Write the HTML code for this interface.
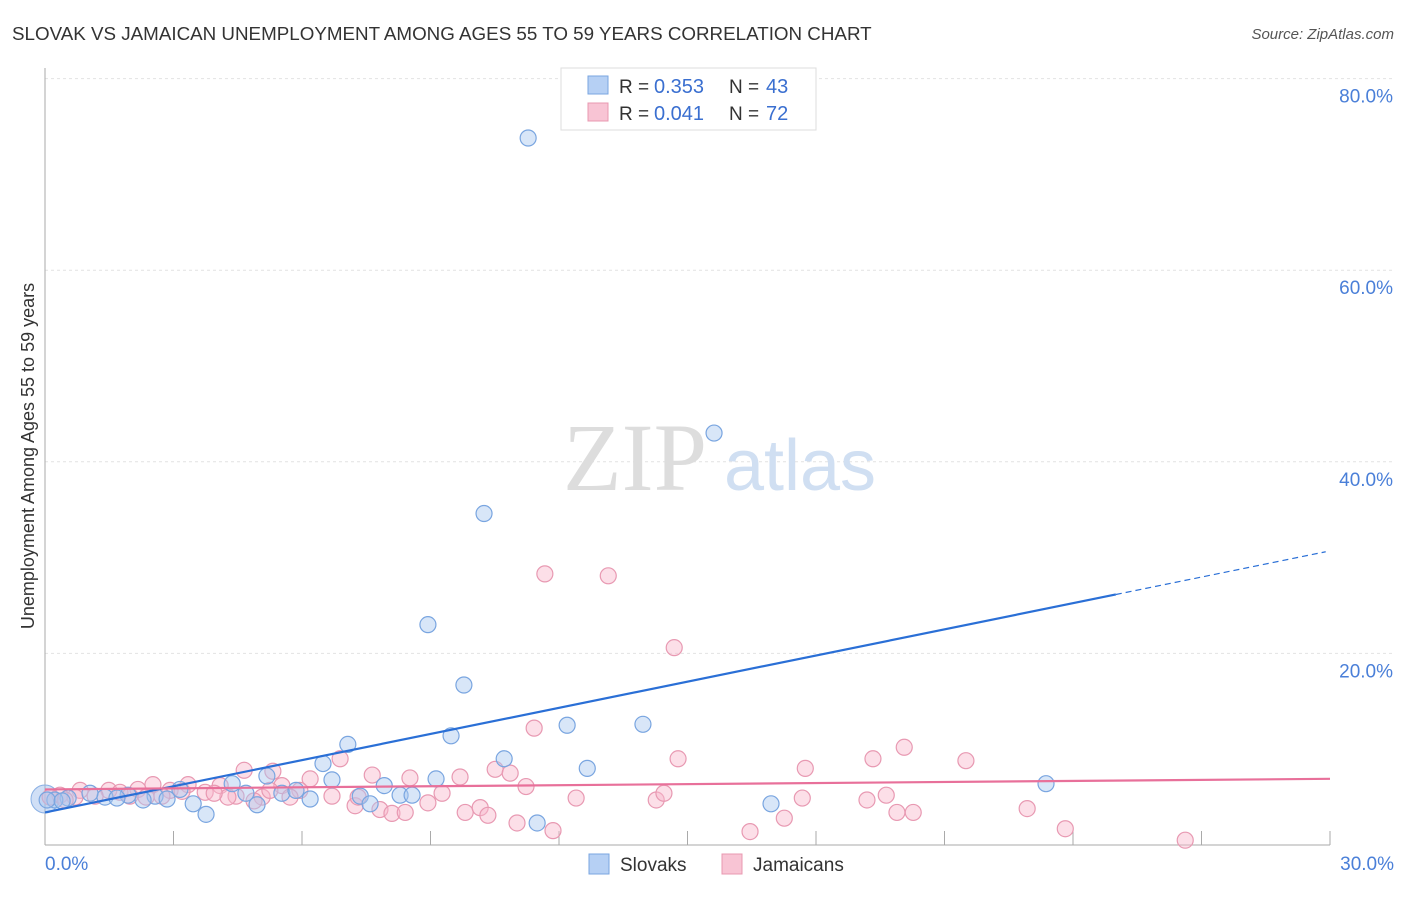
<!DOCTYPE html>
<html><head><meta charset="utf-8"><style>
body{margin:0;background:#fff;font-family:"Liberation Sans",sans-serif}
</style></head><body>
<svg id="chart" width="1406" height="892" xmlns="http://www.w3.org/2000/svg" font-family="Liberation Sans, sans-serif">
<text x="12" y="40" font-size="18.8" fill="#333">SLOVAK VS JAMAICAN UNEMPLOYMENT AMONG AGES 55 TO 59 YEARS CORRELATION CHART</text>
<text x="1394" y="39" font-size="15" fill="#555" text-anchor="end" font-style="italic">Source: ZipAtlas.com</text>
<g id="grid"></g>
<text x="635" y="490" font-size="96" fill="#ddd" text-anchor="middle" font-family="Liberation Serif, serif">ZIP</text>
<text x="800" y="490" font-size="72" fill="#d0dff2" text-anchor="middle">atlas</text>
<g id="points"></g>
<g id="lines"></g>
<text transform="translate(34,456) rotate(-90)" font-size="18" fill="#333" text-anchor="middle">Unemployment Among Ages 55 to 59 years</text>
<g>
<rect x="561" y="68" width="255" height="62" fill="#fff" stroke="#ddd"/>
<rect x="588" y="76" width="20" height="18" fill="#b6d0f4" stroke="#7aa6e0"/>
<rect x="588" y="103" width="20" height="18" fill="#f8c4d4" stroke="#e898b0"/>
<g font-size="19">
<text x="619" y="93" fill="#333">R =</text><text x="654" y="93" fill="#3a6fd0" font-size="20">0.353</text>
<text x="729" y="93" fill="#333">N =</text><text x="766" y="93" fill="#3a6fd0" font-size="20">43</text></g>
<g font-size="19">
<text x="619" y="120" fill="#333">R =</text><text x="654" y="120" fill="#3a6fd0" font-size="20">0.041</text>
<text x="729" y="120" fill="#333">N =</text><text x="766" y="120" fill="#3a6fd0" font-size="20">72</text></g>
</g>
<g>
<rect x="589" y="854" width="20" height="20" fill="#b6d0f4" stroke="#7aa6e0"/>
<text x="620" y="871" font-size="19" fill="#333">Slovaks</text>
<rect x="722" y="854" width="20" height="20" fill="#f8c4d4" stroke="#e898b0"/>
<text x="753" y="871" font-size="19" fill="#333">Jamaicans</text>
</g>
</svg>
<script>
const yTicks=[20,40,60,80];
const yTickLabels=["20.0%","40.0%","60.0%","80.0%"];
const xTicks=[3,6,9,12,15,18,21,24,27,30];
const xEndLabels=["0.0%","30.0%"];
const slovakX=[11.28,15.62,10.25,8.94,9.78,9.48,12.19,13.96,7.07,10.72,12.66,6.49,5.18,6.70,7.92,9.13,4.37,3.15,2.57,1.94,1.40,1.68,1.05,0.54,0.23,0.05,2.85,3.46,3.76,4.69,4.95,5.53,5.86,6.19,7.36,7.59,8.29,8.57,11.49,16.95,23.37,0.40,2.29];
const slovakY=[73.8,43.0,34.6,23.0,16.7,11.4,12.5,12.6,10.5,9.0,8.0,8.5,7.2,6.8,6.2,6.9,6.4,5.8,5.1,5.2,5.0,4.9,5.4,4.9,4.7,4.7,4.8,4.3,3.2,5.4,4.2,5.4,5.7,4.8,5.1,4.3,5.2,5.2,2.3,4.3,6.4,4.6,4.7];
const jamX=[11.67,13.15,14.69,11.42,14.78,20.06,21.5,19.33,17.75,6.89,5.32,4.65,7.64,8.52,9.69,10.51,10.86,11.23,6.19,5.53,5.95,4.09,3.34,2.52,2.17,1.49,0.82,0.35,0.12,1.75,2.92,3.74,4.46,5.07,5.72,6.70,7.24,7.82,8.10,8.41,8.94,9.27,9.81,10.16,10.34,11.02,11.86,12.40,14.27,14.45,16.46,17.26,17.68,19.19,19.64,19.89,20.27,22.93,23.82,26.62,7.31,4.88,4.27,1.17,0.70,0.47,1.98,2.73,3.95,2.36,3.20,5.25];
const jamY=[28.3,28.1,20.6,12.2,9.0,10.2,8.8,9.0,8.0,9.0,7.7,7.8,7.3,7.0,7.1,7.9,7.5,6.1,6.9,6.2,5.7,6.2,6.3,6.3,5.8,5.7,5.7,5.2,5.0,5.5,5.7,5.5,5.1,5.0,5.0,5.1,4.1,3.7,3.3,3.4,4.4,5.4,3.4,3.9,3.1,2.3,1.5,4.9,4.7,5.4,1.4,2.8,4.9,4.7,5.2,3.4,3.4,3.8,1.7,0.5,5.0,4.6,5.0,5.1,5.0,4.7,5.1,5.1,5.4,5.0,5.6,5.7];
const slovakTrend=[3.4,0.91];
const jamTrend=[5.8,0.037];
const X=v=>45+v/30*1285;
const Y=v=>845-v/20*191.6;
const NS="http://www.w3.org/2000/svg";
function mk(t,a,p){const e=document.createElementNS(NS,t);for(const k in a)e.setAttribute(k,a[k]);p.appendChild(e);return e;}
const grid=document.getElementById('grid');
yTicks.forEach((t,i)=>{
 const l=mk('line',{x1:45,x2:1394,y1:Y(t),y2:Y(t),stroke:'#e2e2e2','stroke-dasharray':'3,3'},grid);
 
 
 const tx=mk('text',{x:1393,y:Y(t)+24,'font-size':19,fill:'#4a7fd8','text-anchor':'end'},grid);
 tx.textContent=yTickLabels[i];
 
 
});
const ax=mk('line',{x1:45,x2:1330,y1:845,y2:845,stroke:'#aaa'},grid);


const ay=mk('line',{x1:45,x2:45,y1:68,y2:845,stroke:'#aaa'},grid);


xTicks.forEach(t=>{
 const l=mk('line',{x1:X(t),x2:X(t),y1:831,y2:845,stroke:'#aaa'},grid);
 
 
});
[[0,'start',45],[30,'end',1394]].forEach((d,i)=>{
 const tx=mk('text',{x:d[2],y:870,'font-size':19,fill:'#4a7fd8','text-anchor':d[1]},grid);
 tx.textContent=xEndLabels[i];
 
 
});
const pts=document.getElementById('points');
const big=mk('circle',{cx:X(0),cy:Y(4.8),r:14,fill:'rgba(150,185,235,0.45)',stroke:'#8ab0e4'},pts);


jamX.forEach((x,i)=>{
 const c=mk('circle',{cx:X(x),cy:Y(jamY[i]),r:8,fill:'rgba(248,184,204,0.45)',stroke:'#e899b2','stroke-width':1.2},pts);
 
 
});
slovakX.forEach((x,i)=>{
 const c=mk('circle',{cx:X(x),cy:Y(slovakY[i]),r:8,fill:'rgba(168,200,240,0.45)',stroke:'#79a5e0','stroke-width':1.2},pts);
 
 
});
const ln=document.getElementById('lines');
const f=(tr,x)=>tr[0]+tr[1]*x;
const b1=mk('line',{x1:X(0),y1:Y(f(slovakTrend,0)),x2:X(25),y2:Y(f(slovakTrend,25)),stroke:'#2a6fd6','stroke-width':2.2},ln);


const b2=mk('line',{x1:X(25),y1:Y(f(slovakTrend,25)),x2:X(29.9),y2:Y(f(slovakTrend,29.9)),stroke:'#2a6fd6','stroke-width':1.2,'stroke-dasharray':'6,4'},ln);


const p1=mk('line',{x1:X(0),y1:Y(f(jamTrend,0)),x2:X(30),y2:Y(f(jamTrend,30)),stroke:'#e8709a','stroke-width':2.2},ln);


</script>
</body></html>
